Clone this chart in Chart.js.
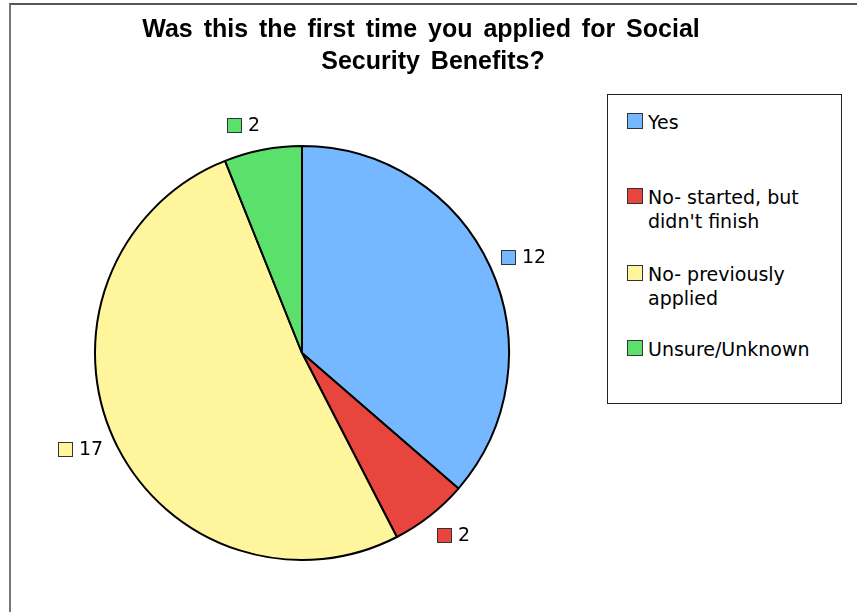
<!DOCTYPE html>
<html>
<head>
<meta charset="utf-8">
<script src="https://cdn.jsdelivr.net/npm/chart.js@4/dist/chart.umd.min.js"></script>
<style>
  html, body { margin: 0; padding: 0; background: #fff; width: 857px; height: 612px; overflow: hidden; }
  #frame { position: absolute; left: 9px; top: 3px; width: 900px; height: 700px; border-left: 2px solid #777; border-top: 2px solid #555; box-sizing: border-box; }
  #wrap { position: absolute; left: 0; top: 0; width: 857px; height: 612px; }
  .title { position: absolute; font-family: "Liberation Sans", Arial, sans-serif; font-weight: bold; font-size: 25px; line-height: 30px; color: #000; white-space: nowrap; word-spacing: 4px; transform: translateX(-50%); }
  #legend { position: absolute; left: 607px; top: 94px; width: 235px; height: 310px; border: 1px solid #222; box-sizing: border-box; background: #fff; }
  .lg { position: absolute; font-family: "DejaVu Sans", Verdana, sans-serif; font-size: 19px; line-height: 24px; color: #000; white-space: nowrap; }
  .sw { position: absolute; width: 14px; height: 14px; border: 1px solid #333; }
</style>
</head>
<body>
<div id="frame"></div>
<div id="wrap"><canvas id="c" width="857" height="612"></canvas></div>
<div class="title" id="t1" style="left:421px; top:13px;"></div>
<div class="title" id="t2" style="left:433px; top:45px;"></div>
<div id="legend"></div>
<div id="legendItems"></div>
<script>
const titleLines = ["Was this the first time you applied for Social", "Security Benefits?"];
const categories = ["Yes", "No- started, but didn't finish", "No- previously applied", "Unsure/Unknown"];
const legendLines = [["Yes"], ["No- started, but", "didn't finish"], ["No- previously", "applied"], ["Unsure/Unknown"]];
const values = [12, 2, 17, 2];
const colors = ["#76B8FF", "#E8453F", "#FFF59D", "#5BE06B"];

document.getElementById('t1').textContent = titleLines[0];
document.getElementById('t2').textContent = titleLines[1];

// legend (HTML)
const baselines = [129, 204, 281, 356];
const li = document.getElementById('legendItems');
categories.forEach((c, i) => {
  const sw = document.createElement('div');
  sw.className = 'sw';
  sw.style.left = '627px';
  sw.style.top = (baselines[i] - 16) + 'px';
  sw.style.background = colors[i];
  li.appendChild(sw);
  const tx = document.createElement('div');
  tx.className = 'lg';
  tx.style.left = '648px';
  tx.style.top = (baselines[i] - 18.6) + 'px';
  tx.innerHTML = legendLines[i].map(s => s.replace(/&/g,'&amp;').replace(/</g,'&lt;')).join('<br>');
  li.appendChild(tx);
});

const labelPlugin = {
  id: 'outsideLabels',
  afterDatasetsDraw(chart) {
    const ctx = chart.ctx;
    const meta = chart.getDatasetMeta(0);
    ctx.save();
    ctx.font = '19px "DejaVu Sans", Verdana, sans-serif';
    ctx.textBaseline = 'middle';
    meta.data.forEach((arc, i) => {
      const p = arc.getProps(['x', 'y', 'startAngle', 'endAngle', 'outerRadius'], true);
      const mid = (p.startAngle + p.endAngle) / 2;
      const c = Math.cos(mid), s = Math.sin(mid);
      const txt = String(chart.data.datasets[0].data[i]);
      const tw = ctx.measureText(txt).width;
      const sw = 15, gap = 6;
      const total = sw + gap + tw;
      const ax = p.x + c * p.outerRadius;
      const ay = p.y + s * p.outerRadius;
      const cx = ax + Math.sign(c) * total / 2 + 12 * c;
      const cy = ay + 25 * s;
      const x0 = Math.round(cx - total / 2);
      ctx.fillStyle = colors[i];
      ctx.fillRect(x0, Math.round(cy - 7), sw, sw);
      ctx.strokeStyle = '#333';
      ctx.lineWidth = 1;
      ctx.strokeRect(x0 + 0.5, Math.round(cy - 7) + 0.5, sw - 1, sw - 1);
      ctx.fillStyle = '#000';
      ctx.textAlign = 'left';
      ctx.fillText(txt, x0 + sw + gap, cy + 1);
    });
    ctx.restore();
  }
};

new Chart(document.getElementById('c'), {
  type: 'pie',
  data: {
    labels: categories,
    datasets: [{
      data: values,
      backgroundColor: colors,
      borderColor: '#000',
      borderWidth: 2,
      hoverOffset: 0,
      offset: 0
    }]
  },
  options: {
    responsive: false,
    animation: false,
    radius: 207,
    layout: { padding: { left: 95, top: 146, right: 348, bottom: 52 } },
    plugins: { legend: { display: false }, title: { display: false }, tooltip: { enabled: false } },
    events: []
  },
  plugins: [labelPlugin]
});
</script>
</body>
</html>
